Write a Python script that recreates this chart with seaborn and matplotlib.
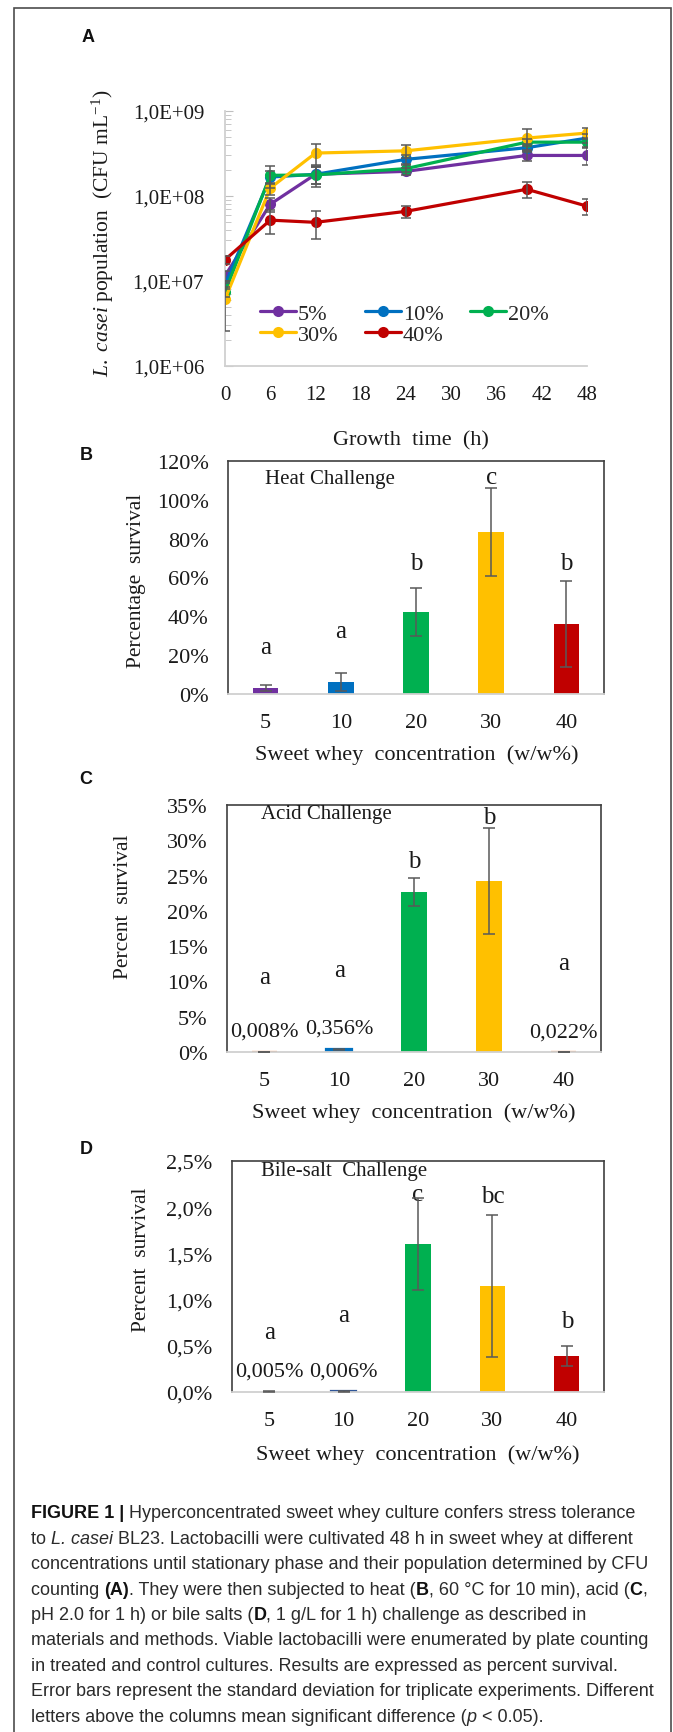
import numpy as np
import pandas as pd
import matplotlib
matplotlib.use('Agg')
import matplotlib.pyplot as plt
import seaborn as sns
from matplotlib.lines import Line2D
from matplotlib.patches import Rectangle
from matplotlib.ticker import FuncFormatter, LogLocator, NullFormatter

W, H = 673, 1733

# ---- panel A: growth curves (CFU/mL) ----
hours = [0, 6, 12, 24, 40, 48]
series = ['5%', '10%', '20%', '30%', '40%']
cfu_5 = [1.15e7, 8.0e7, 1.8e8, 1.95e8, 3.0e8, 3.0e8]
cfu_10 = [9.1e6, 1.67e8, 1.8e8, 2.7e8, 3.7e8, 4.8e8]
cfu_20 = [7.4e6, 1.75e8, 1.77e8, 2.1e8, 4.3e8, 4.3e8]
cfu_30 = [6.1e6, 1.24e8, 3.2e8, 3.4e8, 4.8e8, 5.5e8]
cfu_40 = [1.78e7, 5.2e7, 4.9e7, 6.6e7, 1.2e8, 7.6e7]
sd_5 = [1.5e6, 1.5e7, 4e7, 2e7, 4e7, 7e7]
sd_10 = [1.0e6, 3e7, 4e7, 3e7, 4e7, 6e7]
sd_20 = [1.0e6, 5e7, 5e7, 2e7, 4e7, 5e7]
sd_30 = [3.5e6, 2e7, 9e7, 6e7, 1.3e8, 8e7]
sd_40 = [2.0e6, 1.6e7, 1.8e7, 1.1e7, 2.5e7, 1.6e7]

# ---- panels B-D: survival (%) ----
conc = ['5', '10', '20', '30', '40']
heat_mean = [3.1, 6.2, 42.3, 83.5, 36.1]
heat_sd = [1.5, 4.6, 12.4, 22.6, 22.1]
heat_letters = ['a', 'a', 'b', 'c', 'b']
acid_mean = [0.008, 0.356, 22.7, 24.2, 0.022]
acid_sd = [0.002, 0.1, 2.0, 7.5, 0.005]
acid_letters = ['a', 'a', 'b', 'b', 'a']
bile_mean = [0.005, 0.006, 1.60, 1.15, 0.39]
bile_sd = [0.001, 0.001, 0.5, 0.77, 0.11]
bile_letters = ['a', 'a', 'c', 'bc', 'b']

line_colors = ['#7030A0', '#0070C0', '#00B050', '#FFC000', '#C00000']
heat_colors = ['#7030A0', '#0070C0', '#00B050', '#FFC000', '#C00000']
acid_colors = ['#ED7D31', '#0070C0', '#00B050', '#FFC000', '#ED7D31']
bile_colors = ['#7030A0', '#2F5597', '#00B050', '#FFC000', '#C00000']

sns.set_style('white')
plt.rcParams['font.family'] = ['Liberation Serif', 'DejaVu Serif']
plt.rcParams['mathtext.fontset'] = 'custom'
plt.rcParams['mathtext.rm'] = 'Liberation Serif'
plt.rcParams['mathtext.it'] = 'Liberation Serif:italic'

TXT = '#1a1a1a'
ERR = '#595959'

fig = plt.figure(figsize=(W / 100, H / 100), dpi=100)


def px(x, y):
    return x / W, 1 - y / H


def box(l, t, r, b):
    return [l / W, 1 - b / H, (r - l) / W, (b - t) / H]


# outer frame
fig.patches.append(Rectangle(px(14, 1745), (671 - 14) / W, (1745 - 9) / H,
                             transform=fig.transFigure, fill=False,
                             edgecolor='#4d4d4d', linewidth=1.2))

# ---------------- panel A ----------------
axA = fig.add_axes(box(225, 112, 587, 367))
rows = []
for name, vals in zip(series, [cfu_5, cfu_10, cfu_20, cfu_30, cfu_40]):
    for h, v in zip(hours, vals):
        rows.append({'time': h, 'cfu': v, 'conc': name})
df = pd.DataFrame(rows)
sns.lineplot(data=df, x='time', y='cfu', hue='conc', hue_order=series,
             palette=line_colors, marker='o', markersize=8, markeredgewidth=0,
             linewidth=2.3, legend=False, ax=axA)
for vals, sds in zip([cfu_5, cfu_10, cfu_20, cfu_30, cfu_40],
                     [sd_5, sd_10, sd_20, sd_30, sd_40]):
    axA.errorbar(hours, vals, yerr=sds, fmt='none', ecolor=ERR,
                 elinewidth=1.1, capsize=3.5, capthick=1.1, zorder=4)
axA.set_yscale('log')
axA.set_ylim(1e6, 1e9)
axA.set_xlim(0, 48)
axA.set_xticks(range(0, 49, 6))
axA.yaxis.set_major_locator(LogLocator(base=10, numticks=5))
axA.yaxis.set_minor_locator(LogLocator(base=10, subs=np.arange(2, 10), numticks=10))
axA.yaxis.set_minor_formatter(NullFormatter())
axA.yaxis.set_major_formatter(FuncFormatter(lambda v, p: f'1,0E+{int(round(np.log10(v))):02d}'))
axA.set_xlabel('')
axA.set_ylabel('')
for s in ['top', 'right']:
    axA.spines[s].set_visible(False)
for s in ['left', 'bottom']:
    axA.spines[s].set_color('#D0D0D0')
    axA.spines[s].set_linewidth(1.3)
axA.tick_params(axis='y', which='major', direction='in', length=6, color='#BFBFBF',
                labelsize=15, pad=15, labelcolor=TXT, left=True)
axA.tick_params(axis='y', which='minor', direction='in', length=4, color='#BFBFBF', left=True)
axA.tick_params(axis='x', length=0, labelsize=15, pad=14, labelcolor=TXT)

handles = [Line2D([], [], color=c, marker='o', markersize=8, markeredgewidth=0, linewidth=2.3)
           for c in line_colors]
order = [0, 3, 1, 4, 2]
axA.legend([handles[i] for i in order], [series[i] for i in order], ncol=3,
           loc='upper left', bbox_to_anchor=((260 - 225) / 362, (367 - 304) / 255),
           frameon=False, fontsize=16, handlelength=1.6, handletextpad=0.1,
           columnspacing=1.2, labelspacing=0.05, borderpad=0, borderaxespad=0)

fig.text(*px(88, 38), 'A', family='Liberation Sans', weight='bold', fontsize=13,
         ha='center', va='center', color='#111')
fig.text(*px(103, 233), r'$\mathit{L.\ casei}$ population  (CFU mL$^{\mathregular{-1}}$)',
         rotation=90, ha='center', va='center', fontsize=15.5, color=TXT)
fig.text(*px(411, 441), 'Growth  time  (h)', ha='center', va='center', fontsize=16, color=TXT)


# ---------------- bar panels ----------------
def bar_panel(rect, means, sds, colors, edge_lw, ymax, step, fmt, letters, letter_y,
              title, title_xy, labels=None, label_y=None):
    ax = fig.add_axes(rect)
    sns.barplot(x=conc, y=means, hue=conc, palette=colors, legend=False,
                width=0.34, linewidth=0, saturation=1, ax=ax)
    for patch, c, lw in zip(ax.patches, colors, edge_lw):
        if lw:
            patch.set_edgecolor(c)
            patch.set_linewidth(lw)
    pos = np.arange(len(conc))
    ax.errorbar(pos, means, yerr=sds, fmt='none', ecolor=ERR, elinewidth=1.1,
                capsize=4, capthick=1.1, zorder=4)
    ax.set_xlim(-0.5, len(conc) - 0.5)
    ax.set_ylim(0, ymax)
    ax.set_yticks(np.arange(0, ymax + step / 2, step))
    ax.yaxis.set_major_formatter(FuncFormatter(fmt))
    ax.tick_params(length=0, labelsize=16, labelcolor=TXT)
    ax.tick_params(axis='y', pad=14)
    ax.tick_params(axis='x', pad=14)
    for s in ['top', 'left', 'right']:
        ax.spines[s].set_color('#404040')
        ax.spines[s].set_linewidth(1.2)
    ax.spines['bottom'].set_color('#D0D0D0')
    ax.spines['bottom'].set_linewidth(1.3)
    for x, l, y in zip(pos, letters, letter_y):
        ax.text(x, y, l, ha='center', va='center', fontsize=18, color=TXT)
    if labels:
        for x, l, y in zip(pos, labels, label_y):
            if l:
                ax.text(x, y, l, ha='center', va='center', fontsize=16, color=TXT)
    ax.text(title_xy[0], title_xy[1], title, transform=ax.transAxes,
            ha='left', va='center', fontsize=15, color=TXT)
    ax.set_xlabel('')
    ax.set_ylabel('')
    return ax


pct0 = lambda v, p: f'{v:.0f}%'
pct1 = lambda v, p: f'{v:.1f}%'.replace('.', ',')

bar_panel(box(228, 462, 604, 695), heat_mean, heat_sd, heat_colors, [0] * 5,
          120, 20, pct0, heat_letters, [24, 32.5, 67.5, 112, 67.5],
          'Heat Challenge', (0.098, 0.923))
fig.text(*px(86, 456), 'B', family='Liberation Sans', weight='bold', fontsize=13,
         ha='center', va='center', color='#111')
fig.text(*px(136, 581), 'Percentage  survival', rotation=90, ha='center', va='center',
         fontsize=15.5, color=TXT)
fig.text(*px(417, 755), 'Sweet whey  concentration  (w/w%)', ha='center', va='center',
         fontsize=16, color=TXT)

bar_panel(box(227, 806, 601, 1053), acid_mean, acid_sd, acid_colors, [1.6, 1.6, 0, 0, 1.6],
          35, 5, pct0, acid_letters, [10.6, 11.6, 27, 33.3, 12.6],
          'Acid Challenge', (0.091, 0.964),
          ['0,008%', '0,356%', '', '', '0,022%'], [3.0, 3.4, 0, 0, 2.8])
fig.text(*px(86, 780), 'C', family='Liberation Sans', weight='bold', fontsize=13,
         ha='center', va='center', color='#111')
fig.text(*px(124, 907), 'Percent  survival', rotation=90, ha='center', va='center',
         fontsize=15.5, color=TXT)
fig.text(*px(414, 1113), 'Sweet whey  concentration  (w/w%)', ha='center', va='center',
         fontsize=16, color=TXT)

bar_panel(box(232, 1162, 604, 1393), bile_mean, bile_sd, bile_colors, [0, 1.6, 0, 0, 0],
          2.5, 0.5, pct1, bile_letters, [0.65, 0.83, 2.14, 2.12, 0.77],
          'Bile-salt  Challenge', (0.078, 0.96),
          ['0,005%', '0,006%', '', '', ''], [0.23, 0.23, 0, 0, 0])
fig.text(*px(86, 1150), 'D', family='Liberation Sans', weight='bold', fontsize=13,
         ha='center', va='center', color='#111')
fig.text(*px(142, 1260), 'Percent  survival', rotation=90, ha='center', va='center',
         fontsize=15.5, color=TXT)
fig.text(*px(418, 1455), 'Sweet whey  concentration  (w/w%)', ha='center', va='center',
         fontsize=16, color=TXT)

# ---------------- caption ----------------
caption = [
    [('FIGURE 1 | ', 'b'), ('Hyperconcentrated sweet whey culture confers stress tolerance', 'n')],
    [('to ', 'n'), ('L. casei', 'i'), (' BL23. Lactobacilli were cultivated 48 h in sweet whey at different', 'n')],
    [('concentrations until stationary phase and their population determined by CFU', 'n')],
    [('counting ', 'n'), ('(A)', 'b'), ('. They were then subjected to heat (', 'n'), ('B', 'b'),
     (', 60 °C for 10 min), acid (', 'n'), ('C', 'b'), (',', 'n')],
    [('pH 2.0 for 1 h) or bile salts (', 'n'), ('D', 'b'), (', 1 g/L for 1 h) challenge as described in', 'n')],
    [('materials and methods. Viable lactobacilli were enumerated by plate counting', 'n')],
    [('in treated and control cultures. Results are expressed as percent survival.', 'n')],
    [('Error bars represent the standard deviation for triplicate experiments. Different', 'n')],
    [('letters above the columns mean significant difference (', 'n'), ('p', 'i'), (' < 0.05).', 'n')],
]
renderer = fig.canvas.get_renderer()
cap_size = 13.0


def seg_props(style):
    return dict(family=['Liberation Sans', 'DejaVu Sans'], fontsize=cap_size,
                weight='bold' if style == 'b' else 'normal',
                style='italic' if style == 'i' else 'normal',
                color='#111' if style == 'b' else '#2b2b2b')


def text_width(s, props):
    t1 = fig.text(0, 0, '|' + s + '|', **props)
    t2 = fig.text(0, 0, '||', **props)
    w = t1.get_window_extent(renderer).width - t2.get_window_extent(renderer).width
    t1.remove()
    t2.remove()
    return w


for i, line in enumerate(caption):
    y = 1514 + i * 25.4
    x = 31
    for s, style in line:
        props = seg_props(style)
        fig.text(*px(x, y), s, ha='left', va='center', **props)
        x += text_width(s, props)

fig.savefig('out.png', dpi=100)
